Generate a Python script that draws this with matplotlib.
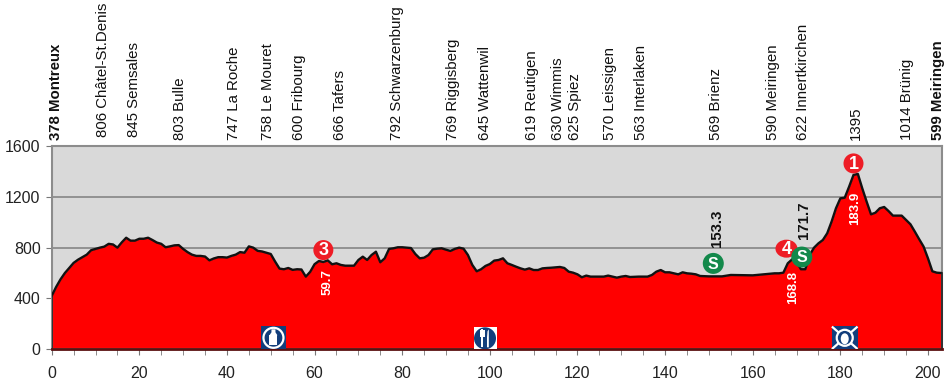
import matplotlib
matplotlib.use("Agg")
import matplotlib.pyplot as plt
from matplotlib.patches import Circle, Ellipse, Rectangle, Polygon
from matplotlib.transforms import Affine2D

plt.rcParams['font.family'] = ['Liberation Sans', 'DejaVu Sans']

km = [0,1,2,3,4,5,6,7,8,9,10,11,12,13,14,15,16,17,18,19,20,21,22,23,24,25,26,27,28,29,30,
      31,32,33,34,35,36,37,38,39,40,41,42,43,44,45,46,47,48,49,50,51,52,53,54,55,56,57,58,59,60,
      61,62,63,64,65,66,67,68,69,70,71,72,73,74,75,76,77,78,79,80,81,82,83,84,85,86,87,88,89,90,
      91,92,93,94,95,96,97,98,99,100,101,102,103,104,105,106,107,108,109,110,111,112,113,114,115,116,117,118,119,120,
      121,122,123,124,125,126,127,128,129,130,131,132,134,136,137,138,139,140,141,142,143,144,145,146,147,148,
      150,153,155,160,165,166,167,168,169,170,171,172,173,174,175,176,177,178,179,180,
      181,182,183,184,185,186,187,188,189,190,191,192,193,194,195,196,197,198,199,200,201,202,203]
elev = [420,490,550,600,640,680,705,725,745,780,790,800,808,830,825,800,842,878,855,855,870,870,878,860,840,830,803,810,818,820,790,
        765,745,735,735,730,700,715,725,725,722,735,745,765,760,810,800,775,770,760,750,690,635,630,640,625,630,628,572,610,670,
        695,687,700,669,677,664,658,658,658,703,729,703,742,768,685,716,790,795,803,803,800,797,750,716,721,742,787,792,795,784,
        774,790,800,792,742,664,614,630,656,671,698,703,716,677,664,650,637,627,637,624,624,637,640,642,645,648,640,611,603,590,
        567,580,572,572,572,572,580,572,564,572,577,569,572,572,585,611,624,606,606,598,590,606,598,595,590,577,
        574,574,585,582,598,598,603,677,708,690,630,630,742,800,834,860,913,1005,1110,1188,
        1193,1280,1372,1380,1267,1162,1062,1075,1110,1120,1088,1052,1052,1052,1018,984,926,866,808,716,614,603,600]

towns = ["378 Montreux","806 Châtel-St.Denis","845 Semsales","803 Bulle","747 La Roche","758 Le Mouret",
         "600 Fribourg","666 Tafers","792 Schwarzenburg","769 Riggisberg","645 Wattenwil","619 Reutigen",
         "630 Wimmis","625 Spiez","570 Leissigen","563 Interlaken","569 Brienz","590 Meiringen",
         "622 Innertkirchen","1395","1014 Brünig","599 Meiringen"]
town_km = [0.9,11.6,18.7,29.2,41.7,49.4,56.4,65.9,78.9,91.7,98.8,109.7,115.6,119.5,127.4,134.6,151.7,164.7,171.4,183.6,195.2,202.3]
bold_towns = ["378 Montreux","599 Meiringen"]
raised_towns = ["806 Châtel-St.Denis","845 Semsales"]

fig = plt.figure(figsize=(9.48,3.84), dpi=100)
W, H = 948, 384
ax = fig.add_axes([51.7/W, 1-349.3/H, (942-51.7)/W, (349.3-146)/H])
ax.set_xlim(0,203.2); ax.set_ylim(0,1600)
ax.set_facecolor('#D9D9D9')
ax.set_axisbelow(True)
ax.grid(axis='y', color='#8C8C8C', lw=1.3)
ax.set_yticks([0,400,800,1200,1600])
ax.set_xticks(range(0,201,20))
ax.set_xticks(range(0,201,5), minor=True)
ax.tick_params(axis='both', which='major', labelsize=11.5, length=4, color='#777777', labelcolor='#222222')
ax.tick_params(axis='x', which='major', pad=8)
ax.tick_params(axis='x', which='minor', length=4, color='#777777')
ax.tick_params(axis='y', pad=4)
for s in ax.spines.values():
    s.set_color('#8C8C8C'); s.set_linewidth(1.5)

ax.fill_between(km+[203.2], elev+[600], 0, color='#FF0000', lw=0, zorder=2)
ax.plot(km+[203.2], elev+[600], color='#111111', lw=1.7, zorder=3, solid_joinstyle='round')
ax.plot([0,0],[0,420], color='#222222', lw=1.2, zorder=3)
ax.plot([203.2,203.2],[0,600], color='#222222', lw=1.2, zorder=3, clip_on=False)
ax.plot([0,203.2],[0,0], color='#5A1010', lw=2, zorder=3, clip_on=False)

tr = ax.get_xaxis_transform()
for name, k in zip(towns, town_km):
    ax.text(k, 1.045 if name in raised_towns else 1.03, name, transform=tr, rotation=90, ha='center', va='bottom', fontsize=10.8,
            color='#111111', fontweight='bold' if name in bold_towns else 'normal', clip_on=False)

# rotated distance labels
for k, e, t, c in [(62.9,530,"59.7",'white'),(183.3,1113,"183.9",'white'),(169.3,490,"168.8",'white')]:
    ax.text(k,e,t,rotation=90,ha='center',va='center',color=c,fontsize=9.5,fontweight='bold',zorder=6)
for k, e, t in [(151.9,955,"153.3"),(171.6,1018,"171.7")]:
    ax.text(k,e,t,rotation=90,ha='center',va='center',color='#111111',fontsize=10.8,fontweight='bold',zorder=6)

def anchor(k, e):
    return Affine2D().translate(*ax.transData.transform((k, e)))

def badge(k, e, t, color, w=20, h=20, fs=13):
    a = anchor(k, e)
    ax.add_patch(Ellipse((0,0), w, h, transform=a, fc=color, ec='none', zorder=7, clip_on=False))
    ax.text(k, e-6, t, ha='center', va='center', color='white', fontsize=fs, fontweight='bold', zorder=8)

badge(62, 781, "3", '#EE1C25')
badge(183, 1463, "1", '#EE1C25')
badge(167.7, 792, "4", '#EE1C25', w=22, h=18)
badge(151, 676, "S", '#13894B', w=21, h=21, fs=11.5)
badge(171.2, 726, "S", '#13894B', w=21, h=21, fs=11.5)

# water icon
a = anchor(50.5, 0)
ax.add_patch(Rectangle((-12,0),25,23,transform=a,fc='#123E7C',ec='none',zorder=5))
ax.add_patch(Circle((0.5,11.5),10,transform=a,fc='#123E7C',ec='white',lw=1.6,zorder=6))
ax.add_patch(Rectangle((-3.5,4),8,10.5,transform=a,fc='white',ec='none',zorder=7))
ax.add_patch(Polygon([(-3.5,14),(4.5,14),(2.5,17),(2.5,20),(-1.5,20),(-1.5,17)],transform=a,fc='white',ec='none',zorder=7))

# food icon
a = anchor(98.9, 0)
ax.add_patch(Rectangle((-11.5,0),23,22,transform=a,fc='white',ec='none',zorder=5))
ax.add_patch(Circle((0,11),11,transform=a,fc='#123E7C',ec='none',zorder=6))
ax.add_patch(Rectangle((-3.6,2),1.6,18,transform=a,fc='white',ec='none',zorder=7))
ax.add_patch(Rectangle((-5.2,12),4.8,7,transform=a,fc='white',ec='none',zorder=7))
ax.add_patch(Polygon([(2,2),(3.8,2),(3.8,20),(2.5,18),(2,12)],transform=a,fc='white',ec='none',zorder=7))

# medical icon
a = anchor(181, 0)
ax.add_patch(Rectangle((-13,0),26,23,transform=a,fc='#123E7C',ec='none',zorder=5))
ax.plot([-12,12],[1,22],transform=a,color='white',lw=1.6,zorder=6)
ax.plot([-12,12],[22,1],transform=a,color='white',lw=1.6,zorder=6)
ax.add_patch(Circle((0,11.5),8,transform=a,fc='#123E7C',ec='white',lw=1.6,zorder=7))
ax.add_patch(Ellipse((0,10.5),8,11,transform=a,fc='white',ec='none',zorder=8))

fig.savefig('out.png', dpi=100)
